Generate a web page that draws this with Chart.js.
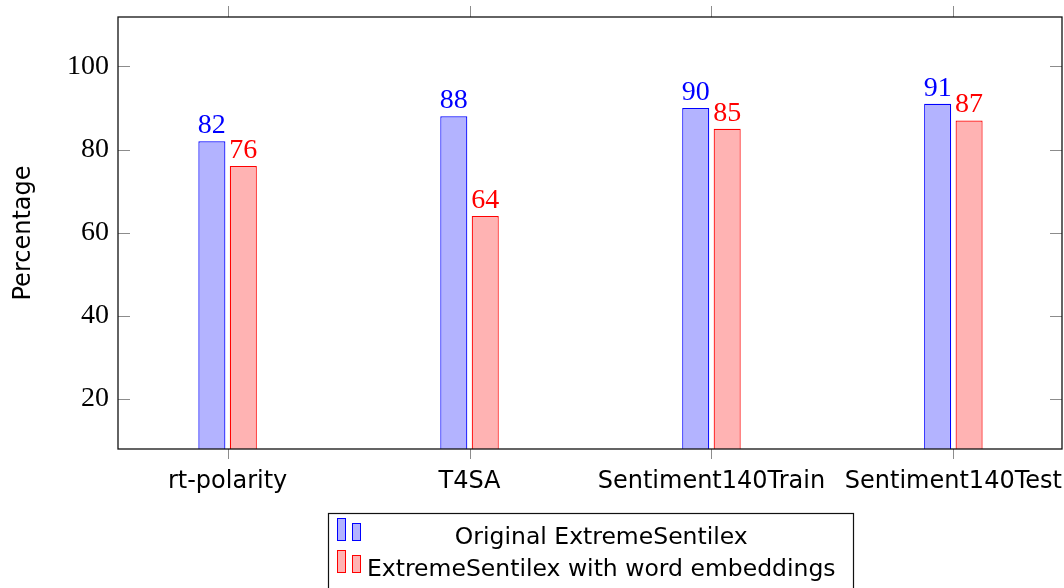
<!DOCTYPE html>
<html>
<head>
<meta charset="utf-8">
<script src="https://cdn.jsdelivr.net/npm/chart.js@4/dist/chart.umd.min.js"></script>
<style>
  html, body { margin: 0; padding: 0; background: #fff; }
  #wrap { width: 1064px; height: 588px; position: relative; }
</style>
</head>
<body>
<div id="wrap"><canvas id="chart" width="1064" height="588"></canvas></div>
<script>
// Datasets and their categories
const categories = ['rt-polarity', 'T4SA', 'Sentiment140Train', 'Sentiment140Test'];
const originalScores = [82, 88, 90, 91];
const embeddingScores = [76, 64, 85, 87];
const seriesNames = ['Original ExtremeSentilex', 'ExtremeSentilex with word embeddings'];
const yTickValues = [20, 40, 60, 80, 100];

const SERIF = '"Liberation Serif", "DejaVu Serif", serif';
const SANS = '"DejaVu Sans", sans-serif';

const colors = [
  { fill: 'rgb(179,179,255)', line: 'rgb(0,0,255)' },
  { fill: 'rgb(255,179,179)', line: 'rgb(255,0,0)' }
];

function toPoints(values) {
  return values.map((v, i) => ({ x: i, y: v }));
}

// Frame, outward/inward tick marks, value labels and the boxed legend
const decorations = {
  id: 'decorations',
  afterDatasetsDraw(chart) {
    const ctx = chart.ctx;
    const a = chart.chartArea;
    const xs = chart.scales.x;
    const ys = chart.scales.y;
    ctx.save();

    // tick marks
    ctx.strokeStyle = '#8c8c8c';
    ctx.lineWidth = 1;
    ctx.beginPath();
    categories.forEach((c, i) => {
      const px = Math.round(xs.getPixelForValue(i)) + 0.5;
      ctx.moveTo(px, a.bottom); ctx.lineTo(px, a.bottom + 10);
      ctx.moveTo(px, a.top); ctx.lineTo(px, a.top - 11);
    });
    yTickValues.forEach(v => {
      const py = Math.round(ys.getPixelForValue(v)) + 0.5;
      ctx.moveTo(a.left, py); ctx.lineTo(a.left + 12, py);
      ctx.moveTo(a.right, py); ctx.lineTo(a.right - 12, py);
    });
    ctx.stroke();

    // frame
    ctx.strokeStyle = '#111';
    ctx.lineWidth = 1.3;
    ctx.strokeRect(a.left, a.top, a.right - a.left, a.bottom - a.top);

    // value labels above the bars
    ctx.font = '28px ' + SERIF;
    ctx.textAlign = 'center';
    ctx.textBaseline = 'alphabetic';
    chart.data.datasets.forEach((ds, di) => {
      const meta = chart.getDatasetMeta(di);
      ctx.fillStyle = colors[di].line;
      meta.data.forEach((bar, i) => {
        ctx.fillText(String(ds.data[i].y), bar.x, bar.y - 8);
      });
    });

    // legend
    const lx = 328.5, ly = 513.5, lw = 525;
    ctx.strokeStyle = '#111';
    ctx.lineWidth = 1.2;
    ctx.strokeRect(lx, ly, lw, 120);
    ctx.font = '23.5px ' + SANS;
    const widths = seriesNames.map(n => ctx.measureText(n).width);
    const colW = Math.max(...widths);
    const textLeft = 367;
    const baselines = [544, 576];
    seriesNames.forEach((name, i) => {
      const base = baselines[i];
      ctx.fillStyle = colors[i].fill;
      ctx.strokeStyle = colors[i].line;
      ctx.lineWidth = 1;
      ctx.fillRect(337.5, base - 25.5, 8, 22);
      ctx.strokeRect(337.5, base - 25.5, 8, 22);
      ctx.fillRect(352.5, base - 20.5, 8, 17);
      ctx.strokeRect(352.5, base - 20.5, 8, 17);
      ctx.fillStyle = '#000';
      ctx.textAlign = 'center';
      ctx.fillText(name, textLeft + colW / 2, base);
    });

    ctx.restore();
  }
};

new Chart(document.getElementById('chart'), {
  type: 'bar',
  data: {
    datasets: [
      {
        label: seriesNames[0],
        data: toPoints(originalScores),
        backgroundColor: colors[0].fill,
        borderColor: colors[0].line,
        borderWidth: 1.2
      },
      {
        label: seriesNames[1],
        data: toPoints(embeddingScores),
        backgroundColor: colors[1].fill,
        borderColor: colors[1].line,
        borderWidth: 1.2
      }
    ]
  },
  options: {
    responsive: false,
    animation: false,
    layout: { padding: { left: 0, right: 2, top: 17, bottom: 0 } },
    datasets: {
      bar: { categoryPercentage: 0.26, barPercentage: 0.86 }
    },
    plugins: {
      legend: { display: false },
      tooltip: { enabled: false }
    },
    scales: {
      x: {
        type: 'linear',
        min: -0.453,
        max: 3.449,
        offset: false,
        grid: { display: false, drawTicks: false, tickLength: 0 },
        border: { display: false },
        afterBuildTicks(scale) { scale.ticks = categories.map((c, i) => ({ value: i })); },
        afterFit(scale) {
          scale.height = 139;
          scale.paddingLeft = 0;
          scale.paddingRight = 0;
        },
        ticks: {
          autoSkip: false,
          maxRotation: 0,
          padding: 18,
          color: '#000',
          font: { family: SANS, size: 24 },
          callback: (v) => categories[v]
        }
      },
      y: {
        type: 'linear',
        min: 7.9,
        max: 111.9,
        grid: { display: false, drawTicks: false, tickLength: 0 },
        border: { display: false },
        afterBuildTicks(scale) { scale.ticks = yTickValues.map(v => ({ value: v })); },
        afterFit(scale) {
          scale.width = 118;
          scale.paddingTop = 0;
          scale.paddingBottom = 0;
        },
        title: {
          display: true,
          text: 'Percentage',
          color: '#000',
          font: { family: SANS, size: 24 },
          padding: { top: 9, bottom: 0 }
        },
        ticks: {
          padding: 9,
          color: '#000',
          font: { family: SERIF, size: 28 }
        }
      }
    }
  },
  plugins: [decorations]
});
</script>
</body>
</html>
